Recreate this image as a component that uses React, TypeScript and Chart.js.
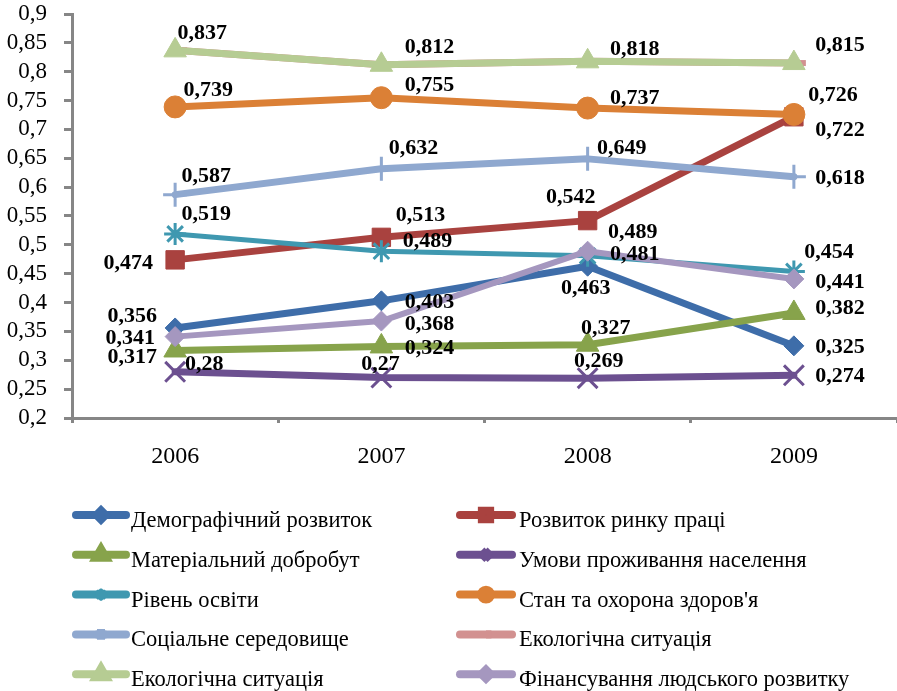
import React, { useEffect, useRef } from 'react';
import { Chart, registerables } from 'chart.js';
import { drawPoint } from 'chart.js/helpers';

Chart.register(...registerables);

// ---------- data ----------
const years = ['2006', '2007', '2008', '2009'];

const seriesNames = [
  'Демографічний розвиток',
  'Розвиток ринку праці',
  'Матеріальний добробут',
  'Умови проживання населення',
  'Рівень освіти',
  "Стан та охорона здоров'я",
  'Соціальне середовище',
  'Екологічна ситуація',
  'Екологічна ситуація',
  'Фінансування людського розвитку',
];

const demographic = [0.356, 0.403, 0.463, 0.325];
const laborMarket = [0.474, 0.513, 0.542, 0.722];
const materialWellbeing = [0.317, 0.324, 0.327, 0.382];
const livingConditions = [0.28, 0.27, 0.269, 0.274];
const education = [0.519, 0.489, 0.481, 0.454];
const health = [0.739, 0.755, 0.737, 0.726];
const socialEnvironment = [0.587, 0.632, 0.649, 0.618];
const ecologyA = [0.837, 0.812, 0.818, 0.815];
const ecologyB = [0.837, 0.812, 0.818, 0.815];
const financing = [0.341, 0.368, 0.489, 0.441];

const yMin = 0.2;
const yMax = 0.9;
const yStep = 0.05;

const seriesValues = [
  demographic, laborMarket, materialWellbeing, livingConditions, education,
  health, socialEnvironment, ecologyA, ecologyB, financing,
];

// ---------- styles ----------
const colors = ['#3E6DA9', '#A9423F', '#87A34B', '#6C5090', '#3F98B0', '#DB8036', '#8FA8CF', '#D29190', '#B6CC93', '#A597BF'];
const pointStyles = ['rectRot', 'rect', 'triangle', 'crossRot', 'star', 'circle', 'cross', 'dash', 'triangle', 'rectRot'];
const pointRadii = [10, 13, 13, 14, 11, 11, 12, 12, 13, 10];
const pointBorderWidths = [1, 1, 1, 3, 3, 1, 3, 6, 1, 1];
const lineWidths = [7, 7, 7, 7, 5, 7, 7, 7, 7, 6];
const showLabels = [true, true, true, true, true, true, true, false, true, true];

// label centre offsets relative to the point (px)
const labelOffsets: number[][][] = [
  [[-43, -13], [48, 0], [-2, 20], [46, 0]],
  [[-47, 2], [39, -24], [-17, -25], [46, 12]],
  [[-43, 5], [48, 0], [18, -18], [46, -6]],
  [[29, -9], [-1, -15], [11, -19], [46, -1]],
  [[31, -21], [46, -12], [47, -3], [35, -21]],
  [[33, -18], [48, -14], [47, -12], [39, -21]],
  [[31, -20], [32, -22], [34, -12], [46, 0]],
  [[0, 0], [0, 0], [0, 0], [0, 0]],
  [[27, -19], [48, -19], [47, -14], [46, -20]],
  [[-45, 0], [48, 1], [45, -21], [46, 2]],
];

const FONT = "'Liberation Serif', 'Times New Roman', serif";
const AXIS_COLOR = '#868686';

const fmt = (v: number) => String(Math.round(v * 1000) / 1000).replace('.', ',');

const dataLabelPlugin = {
  id: 'dataLabels',
  afterDatasetsDraw(chart: any) {
    const ctx = chart.ctx;
    ctx.save();
    ctx.font = `bold 22px ${FONT}`;
    ctx.fillStyle = '#000';
    ctx.textAlign = 'center';
    ctx.textBaseline = 'alphabetic';
    chart.data.datasets.forEach((ds: any, i: number) => {
      if (!showLabels[i]) return;
      const meta = chart.getDatasetMeta(i);
      meta.data.forEach((pt: any, j: number) => {
        const off = labelOffsets[i][j];
        ctx.fillText(fmt(ds.data[j]), pt.x + off[0], pt.y + off[1] + 7.5);
      });
    });
    ctx.restore();
  },
};

const legendPlugin = {
  id: 'customLegend',
  afterDraw(chart: any) {
    const ctx = chart.ctx;
    ctx.save();
    const cols = [{ x1: 72, x2: 130, tx: 131 }, { x1: 456, x2: 516, tx: 519 }];
    seriesNames.forEach((name, i) => {
      const col = cols[i % 2];
      const row = Math.floor(i / 2);
      const y = 515 + row * 39.8;
      ctx.strokeStyle = colors[i];
      ctx.fillStyle = colors[i];
      ctx.lineWidth = 8;
      ctx.lineCap = 'round';
      ctx.beginPath();
      ctx.moveTo(col.x1 + 4, y);
      ctx.lineTo(col.x2 - 4, y);
      ctx.stroke();
      ctx.lineCap = 'butt';
      drawPoint(ctx, {
        pointStyle: pointStyles[i],
        rotation: 0,
        radius: pointRadii[i] * 0.45,
        borderWidth: Math.min(pointBorderWidths[i], 2),
      } as any, (col.x1 + col.x2) / 2, y);
      ctx.fillStyle = '#000';
      ctx.font = `22.5px ${FONT}`;
      ctx.textAlign = 'left';
      ctx.textBaseline = 'alphabetic';
      ctx.fillText(name, col.tx, y + 12);
    });
    ctx.restore();
  },
};

export default function App() {
  const canvasRef = useRef<HTMLCanvasElement>(null);

  useEffect(() => {
    document.body.style.margin = '0';
    const canvas = canvasRef.current;
    if (!canvas) return;
    const datasets = seriesValues.map((vals, i) => ({
      label: seriesNames[i],
      data: vals,
      borderColor: colors[i],
      backgroundColor: colors[i],
      borderWidth: lineWidths[i],
      borderJoinStyle: 'round' as const,
      borderCapStyle: 'round' as const,
      pointStyle: pointStyles[i],
      pointRadius: pointRadii[i],
      pointBackgroundColor: colors[i],
      pointBorderColor: colors[i],
      pointBorderWidth: pointBorderWidths[i],
      tension: 0,
      fill: false,
      clip: false as any,
      order: seriesValues.length - i,
    }));

    const chart = new Chart(canvas, {
      type: 'line',
      data: { labels: years, datasets },
      plugins: [dataLabelPlugin, legendPlugin],
      options: {
        animation: false,
        responsive: false,
        devicePixelRatio: 1,
        layout: { autoPadding: false, padding: { top: 14, left: 0, right: -3, bottom: 213 } },
        plugins: {
          legend: { display: false },
          tooltip: { enabled: false },
        },
        scales: {
          x: {
            type: 'category',
            offset: true,
            afterFit: (s: any) => {
              s.height = 60;
              s.paddingLeft = 0;
              s.paddingRight = 0;
            },
            grid: {
              offset: true,
              drawOnChartArea: false,
              drawTicks: true,
              tickLength: 5,
              color: AXIS_COLOR,
              lineWidth: 3,
            },
            border: { color: AXIS_COLOR, width: 3 },
            ticks: {
              color: '#000',
              font: { family: FONT, size: 24 },
              padding: 19,
              maxRotation: 0,
            },
          },
          y: {
            type: 'linear',
            min: yMin,
            max: yMax,
            afterFit: (s: any) => {
              s.width = 72;
              s.paddingTop = 14;
              s.paddingBottom = 0;
            },
            grid: {
              drawOnChartArea: false,
              drawTicks: true,
              tickLength: 8,
              color: AXIS_COLOR,
              lineWidth: 3,
            },
            border: { color: AXIS_COLOR, width: 3 },
            ticks: {
              stepSize: yStep,
              autoSkip: false,
              color: '#000',
              font: { family: FONT, size: 23 },
              padding: 17,
              callback: (v: any) => String(Math.round(Number(v) * 100) / 100).replace('.', ','),
            },
          },
        },
      },
    });
    return () => chart.destroy();
  }, []);

  return (
    <div style={{ width: 897, height: 691, background: '#fff' }}>
      <canvas ref={canvasRef} width={897} height={691} />
    </div>
  );
}
